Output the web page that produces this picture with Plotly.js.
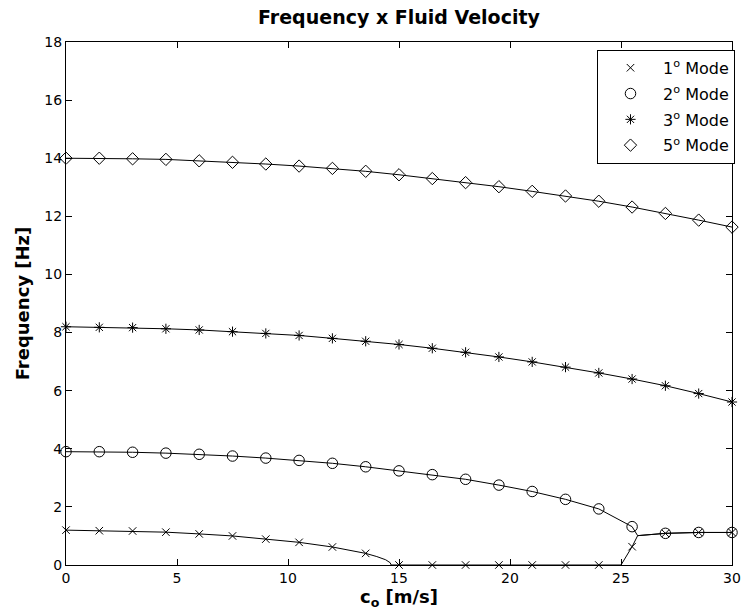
<!DOCTYPE html>
<html>
<head>
<meta charset="utf-8">
<script src="https://cdn.plot.ly/plotly-3.0.1.min.js"></script>
<style>html,body{margin:0;padding:0;background:#fff;}#chart{width:745px;height:616px;}</style>
</head>
<body>
<div id="chart"></div>
<script>
// Marker positions (fluid velocity, m/s)
const velocity = [0,1.5,3,4.5,6,7.5,9,10.5,12,13.5,15,16.5,18,19.5,21,22.5,24,25.5,27,28.5,30];

// Frequencies at the marker positions [Hz]
const mode1 = [1.20,1.18,1.17,1.13,1.07,1.00,0.89,0.78,0.62,0.40,0,0,0,0,0,0,0,0.63,1.09,1.12,1.12];
const mode2 = [3.90,3.90,3.88,3.85,3.81,3.75,3.68,3.60,3.50,3.38,3.24,3.11,2.95,2.75,2.53,2.26,1.93,1.32,1.09,1.12,1.12];
const mode3 = [8.20,8.18,8.17,8.13,8.09,8.03,7.97,7.90,7.80,7.70,7.59,7.46,7.32,7.16,6.99,6.81,6.61,6.40,6.17,5.90,5.61];
const mode5 = [14.00,14.00,13.98,13.96,13.91,13.86,13.80,13.73,13.65,13.55,13.43,13.30,13.16,13.02,12.86,12.70,12.52,12.32,12.10,11.87,11.63];

// Continuous curves (marker points plus extra points read at the bends)
const mode1LineX = [0,1.5,3,4.5,6,7.5,9,10.5,12,13.5,14.0,14.4,14.6,14.65,15,16.5,18,19.5,21,22.5,24,25.0,25.5,25.75,27,28.5,30];
const mode1LineY = [1.20,1.18,1.17,1.13,1.07,1.00,0.89,0.78,0.62,0.40,0.29,0.18,0.08,0,0,0,0,0,0,0,0,0,0.63,1.01,1.09,1.12,1.12];
const mode2LineX = [0,1.5,3,4.5,6,7.5,9,10.5,12,13.5,15,16.5,18,19.5,21,22.5,24,25.5,25.75,27,28.5,30];
const mode2LineY = [3.90,3.90,3.88,3.85,3.81,3.75,3.68,3.60,3.50,3.38,3.24,3.11,2.95,2.75,2.53,2.26,1.93,1.32,1.01,1.09,1.12,1.12];

const legendNames = ['1<sup>o</sup> Mode','2<sup>o</sup> Mode','3<sup>o</sup> Mode','5<sup>o</sup> Mode'];
const xTicks = [0,5,10,15,20,25,30];
const yTicks = [0,2,4,6,8,10,12,14,16,18];

const FONT = 'DejaVu Sans, Arial, sans-serif';
const lineStyle = {color:'#000', width:1};
const traces = [
  {x:mode1LineX, y:mode1LineY, mode:'lines', line:lineStyle, showlegend:false, hoverinfo:'skip'},
  {x:mode2LineX, y:mode2LineY, mode:'lines', line:lineStyle, showlegend:false, hoverinfo:'skip'},
  {x:velocity, y:mode3, mode:'lines', line:lineStyle, showlegend:false, hoverinfo:'skip'},
  {x:velocity, y:mode5, mode:'lines', line:lineStyle, showlegend:false, hoverinfo:'skip'},
  {x:velocity, y:mode1, mode:'markers', name:legendNames[0], legendgroup:'a', cliponaxis:false,
   marker:{symbol:'x-thin-open', size:7.5, color:'#000', line:{color:'#000', width:1}}},
  {x:velocity, y:mode2, mode:'markers', name:legendNames[1], legendgroup:'b', cliponaxis:false,
   marker:{symbol:'circle-open', size:10.5, color:'#000', line:{color:'#000', width:1}}},
  {x:velocity, y:mode3, mode:'markers', name:legendNames[2], legendgroup:'c', cliponaxis:false,
   marker:{symbol:'asterisk-open', size:8.5, color:'#000', line:{color:'#000', width:1}}},
  {x:velocity, y:mode5, mode:'markers', name:legendNames[3], legendgroup:'d', cliponaxis:false,
   marker:{symbol:'diamond-open', size:9.5, color:'#000', line:{color:'#000', width:1}}}
];

const axisCommon = {
  showline:true, linecolor:'#000', linewidth:1, mirror:'ticks',
  ticks:'inside', ticklen:6, tickcolor:'#000', tickwidth:1,
  showgrid:false, zeroline:false,
  tickfont:{family:FONT, size:14, color:'#000'}
};

const layout = {
  width:745, height:616,
  margin:{l:66, r:10, t:42, b:51},
  paper_bgcolor:'#fff', plot_bgcolor:'#fff',
  title:{text:'<b>Frequency x Fluid Velocity</b>', xref:'paper', x:0.5, xanchor:'center',
         yref:'container', y:0.972, yanchor:'middle',
         font:{family:FONT, size:19, color:'#000'}},
  xaxis:Object.assign({}, axisCommon, {
    range:[0,30], tickvals:xTicks, ticktext:xTicks.map(String),
    title:{text:'<b>c<sub>o</sub> [m/s]</b>', standoff:2, font:{family:FONT, size:18, color:'#000'}}
  }),
  yaxis:Object.assign({}, axisCommon, {
    range:[0,18], tickvals:yTicks, ticktext:yTicks.map(String),
    title:{text:'<b>Frequency [Hz]</b>', standoff:10, font:{family:FONT, size:18, color:'#000'}}
  }),
  legend:{x:1.0045, xanchor:'right', y:0.985, yanchor:'top',
          bgcolor:'#fff', bordercolor:'#000', borderwidth:1,
          font:{family:FONT, size:16, color:'#000'},
          traceorder:'grouped', tracegroupgap:2, itemwidth:55},
  showlegend:true
};

Plotly.newPlot('chart', traces, layout, {staticPlot:true, displayModeBar:false});
</script>
</body>
</html>
